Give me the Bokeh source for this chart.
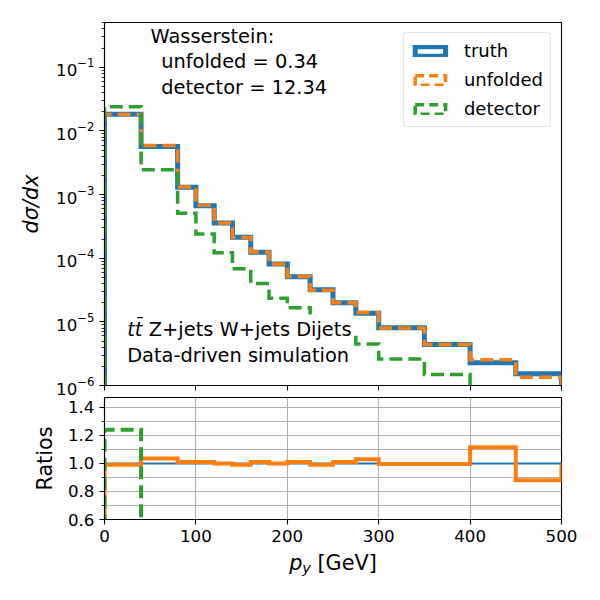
from bokeh.plotting import figure
from bokeh.layouts import column
from bokeh.models import (Range1d, FixedTicker, Label, BoxAnnotation, Legend,
                          LegendItem, ColumnDataSource, PrintfTickFormatter)
from bokeh.embed import file_html
from bokeh.resources import INLINE

# ---------------- data ----------------
edges = [0, 40, 80, 100, 120, 140, 160, 180, 200, 225, 250, 275, 300, 350, 400, 450, 500]
truth = [1.83e-2, 5.7e-3, 1.30e-3, 6.7e-4, 3.58e-4, 2.13e-4, 1.24e-4, 8.1e-5,
         5.1e-5, 3.18e-5, 1.99e-5, 1.36e-5, 8.05e-6, 4.4e-6, 2.27e-6, 1.53e-6]
unfolded = [1.81e-2, 5.9e-3, 1.31e-3, 6.8e-4, 3.58e-4, 2.11e-4, 1.25e-4, 8.1e-5,
            5.15e-5, 3.15e-5, 2.0e-5, 1.40e-5, 8.0e-6, 4.4e-6, 2.53e-6, 1.35e-6]
detector = [2.40e-2, 2.46e-3, 5.07e-4, 2.40e-4, 1.22e-4, 6.8e-5, 4.0e-5, 2.35e-5,
            1.66e-5, 9.5e-6, 6.5e-6, 4.5e-6, 2.6e-6, 1.49e-6, 6.0e-7, 5.0e-7]
ratio_truth = [1.0] * 16
ratio_unfolded = [0.99, 1.035, 1.01, 1.01, 1.00, 0.99, 1.01, 1.00,
                  1.01, 0.99, 1.01, 1.03, 0.995, 0.995, 1.115, 0.88]
ratio_detector = [1.24, 0.43, 0.39, 0.36, 0.34, 0.32, 0.32, 0.29,
                  0.33, 0.30, 0.33, 0.33, 0.32, 0.34, 0.26, 0.33]
x_ticks = [0, 100, 200, 300, 400, 500]
ratio_major = [0.6, 0.8, 1.0, 1.2, 1.4]
ratio_minor = [0.7, 0.9, 1.1, 1.3]
series_names = ["truth", "unfolded", "detector"]

BLUE, ORANGE, GREEN = "#1f77b4", "#ff7f0e", "#2ca02c"
FONT = "DejaVu Sans"


def step_path(vals, start, end):
    xs, ys = [edges[0]], [start]
    for i, v in enumerate(vals):
        xs += [edges[i], edges[i + 1]]
        ys += [v, v]
    xs.append(edges[-1])
    ys.append(end)
    return xs, ys


def style_axes(p):
    for ax in (p.xaxis, p.yaxis):
        ax.major_label_text_font = FONT
        ax.major_label_text_font_size = "16.7px"
        ax.major_label_text_color = "black"
        ax.axis_label_text_font = FONT
        ax.axis_label_text_font_size = "20.8px"
        ax.axis_label_text_font_style = "normal"
        ax.axis_label_text_color = "black"
        ax.axis_line_color = "black"
        ax.axis_line_width = 1.1
        ax.major_tick_line_color = "black"
        ax.minor_tick_line_color = "black"
        ax.major_tick_line_width = 1.1
        ax.minor_tick_line_width = 0.8
        ax.major_tick_in = 0
        ax.major_tick_out = 5
        ax.minor_tick_in = 0
        ax.minor_tick_out = 3
        ax.major_label_standoff = 5
    p.outline_line_color = "black"
    p.outline_line_width = 1.1
    p.background_fill_color = "white"
    p.border_fill_color = "white"


# ---------------- top panel ----------------
top = figure(frame_width=457, frame_height=363, y_axis_type="log",
             x_range=Range1d(0, 500), y_range=Range1d(1e-6, 0.505),
             output_backend="svg", toolbar_location=None,
             min_border_left=104, min_border_right=20, min_border_top=22,
             min_border_bottom=12)
style_axes(top)
top.xgrid.visible = False
top.ygrid.visible = False
top.xaxis.ticker = FixedTicker(ticks=x_ticks, minor_ticks=[])
top.xaxis.major_label_text_font_size = "1px"
top.xaxis.major_label_text_color = None
top.xaxis.major_label_standoff = 0
top.yaxis.axis_label = "dσ/dx"
top.yaxis.axis_label_text_font_style = "italic"
top.yaxis.axis_label_standoff = 10

xs, ys = step_path(truth, 1e-9, 1e-9)
top.line(xs, ys, line_color=BLUE, line_width=5, line_join="miter")
xs, ys = step_path(unfolded, 1e-9, 1e-9)
top.line(xs, ys, line_color=ORANGE, line_width=3.5, line_dash="13 6", line_join="miter")
xs, ys = step_path(detector, 1e-9, 1e-9)
top.line(xs, ys, line_color=GREEN, line_width=3.5, line_dash="13 6", line_join="miter")

# legend proxies (rectangle outlines, placed outside the visible x range)
def proxy(color, width, dash):
    src = ColumnDataSource(dict(left=[-60], right=[-50], top=[1e-2], bottom=[1e-3]))
    return top.quad(left="left", right="right", top="top", bottom="bottom", source=src,
                    fill_color=None, line_color=color, line_width=width, line_dash=dash,
                    line_join="miter")

lt = proxy(BLUE, 5, "solid")
lu = proxy(ORANGE, 3.5, "9 5")
ld = proxy(GREEN, 3.5, "9 5")
legend = Legend(items=[LegendItem(label=series_names[0], renderers=[lt]),
                       LegendItem(label=series_names[1], renderers=[lu]),
                       LegendItem(label=series_names[2], renderers=[ld])],
                location="top_right")
legend.label_text_font = FONT
legend.label_text_font_size = "18px"
legend.label_text_color = "black"
legend.glyph_width = 38
legend.glyph_height = 12
legend.label_standoff = 15
legend.label_height = 20
legend.padding = 7
legend.spacing = 8
legend.margin = 10
legend.border_line_color = "#cccccc"
legend.border_line_width = 1
legend.background_fill_alpha = 0.8
try:
    legend.border_radius = 4
except Exception:
    pass
top.add_layout(legend)

# white box behind the process text
top.add_layout(BoxAnnotation(left=15.3, right=272.4, bottom=1.72e-6, top=1.30e-5,
                             fill_color="white", fill_alpha=1.0, line_color=None))


def lab(p, x, y, text, size="19.4px", style="normal"):
    p.add_layout(Label(x=x, y=y, text=text, text_font=FONT, text_font_size=size,
                       text_font_style=style, text_align="left",
                       text_baseline="alphabetic", text_color="black"))


lab(top, 50.3, 0.303, "Wasserstein:")
lab(top, 62.0, 0.122, "unfolded = 0.34")
lab(top, 62.0, 0.0485, "detector = 12.34")
lab(top, 24.8, 7.71e-6, "tt\u0304", style="italic")
lab(top, 48.5, 7.71e-6, "Z+jets W+jets Dijets")
lab(top, 24.8, 2.94e-6, "Data-driven simulation")

# ---------------- ratio panel ----------------
bot = figure(frame_width=457, frame_height=122,
             x_range=top.x_range, y_range=Range1d(0.6, 1.47),
             output_backend="svg", toolbar_location=None,
             min_border_left=104, min_border_right=20, min_border_top=0,
             min_border_bottom=30)
style_axes(bot)
bot.xaxis.ticker = FixedTicker(ticks=x_ticks, minor_ticks=[])
bot.yaxis.ticker = FixedTicker(ticks=ratio_major, minor_ticks=ratio_minor)
bot.yaxis.formatter = PrintfTickFormatter(format="%.1f")
bot.yaxis.axis_label = "Ratios"
bot.yaxis.axis_label_standoff = 8
for g in (bot.xgrid, bot.ygrid):
    g.grid_line_color = "#b0b0b0"
    g.grid_line_width = 1.1
bot.ygrid.minor_grid_line_color = "#b0b0b0"
bot.ygrid.minor_grid_line_width = 1.1

xs, ys = step_path(ratio_truth, 1.0, 1.0)
bot.line(xs, ys, line_color=BLUE, line_width=2)
xs, ys = step_path(ratio_unfolded, 0.0, 1.0)
bot.line(xs, ys, line_color=ORANGE, line_width=4, line_join="miter")
xs, ys = step_path(ratio_detector, 0.0, 0.0)
bot.line(xs, ys, line_color=GREEN, line_width=4, line_dash="13 6", line_join="miter")

# ---------------- x-axis title strip:  p_y [GeV] ----------------
cap = figure(frame_width=457, frame_height=36,
             x_range=top.x_range, y_range=Range1d(0, 1),
             output_backend="svg", toolbar_location=None,
             x_axis_location=None, y_axis_location=None,
             min_border_left=104, min_border_right=20, min_border_top=0,
             min_border_bottom=0)
cap.outline_line_color = None
cap.xgrid.visible = False
cap.ygrid.visible = False
cap.background_fill_color = "white"
cap.border_fill_color = "white"
lab(cap, 202.0, 0.63, "p", size="20.8px", style="italic")
lab(cap, 216.4, 0.49, "y", size="14.6px", style="italic")
lab(cap, 233.0, 0.63, "[GeV]", size="20.8px")

layout = column(top, bot, cap, spacing=0)
open("out.html", "w").write(file_html(layout, INLINE))
